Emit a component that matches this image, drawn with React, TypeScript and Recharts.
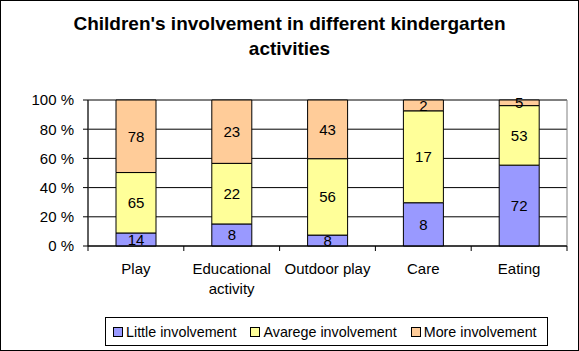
import React from 'react';
import { BarChart, Bar, XAxis, YAxis, CartesianGrid, LabelList, ReferenceArea, Text } from 'recharts';

const categories = ['Play', 'Educational activity', 'Outdoor play', 'Care', 'Eating'];
const little = [14, 8, 8, 8, 72];
const average = [65, 22, 56, 17, 53];
const more = [78, 23, 43, 2, 5];
const yTicks = [0, 0.2, 0.4, 0.6, 0.8, 1];
const seriesNames = ['Little involvement', 'Avarege involvement', 'More involvement'];
const colors = ['#9999FF', '#FFFF99', '#FFCC99'];
const title = ["Children's involvement in different kindergarten", 'activities'];

const data = categories.map((c, i) => ({ name: c, little: little[i], average: average[i], more: more[i] }));

const FONT = '"Liberation Sans", Arial, sans-serif';
const TICK_SIZE = 5;
const TICK_MARGIN = 12;

const XTick = (props: any) => {
  const { x, y, payload, index, visibleTicksCount } = props;
  const half = payload.offset || 0;
  const axisY = y - TICK_SIZE - TICK_MARGIN;
  const isLast = index === visibleTicksCount - 1;
  return (
    <g>
      <line x1={x - half} x2={x - half} y1={axisY} y2={axisY + TICK_SIZE} stroke="#000" />
      {isLast && <line x1={x + half} x2={x + half} y1={axisY} y2={axisY + TICK_SIZE} stroke="#000" />}
      <Text
        x={x}
        y={y}
        width={half * 2}
        textAnchor="middle"
        verticalAnchor="start"
        lineHeight={20}
        fontSize={15}
        fontFamily={FONT}
        fill="#000"
      >
        {payload.value}
      </Text>
    </g>
  );
};

export default function App() {
  return (
    <div style={{ position: 'absolute', left: 0, top: 0, width: 579, height: 351, background: '#fff', fontFamily: FONT }}>
      <div style={{ position: 'absolute', left: 0, top: 0, width: 579, height: 351, boxSizing: 'border-box', border: '1px solid #000' }} />
      <div style={{ position: 'absolute', left: 0, top: 11, width: 579, textAlign: 'center', fontWeight: 'bold', fontSize: 19, lineHeight: '25px', color: '#000' }}>
        {title.map((t) => (
          <div key={t}>{t}</div>
        ))}
      </div>
      <div style={{ position: 'absolute', left: 0, top: 0 }}>
        <BarChart
          width={579}
          height={351}
          data={data}
          stackOffset="expand"
          margin={{ top: 100, right: 12, left: 28, bottom: 55 }}
          barSize={40}
        >
          <CartesianGrid vertical={false} stroke="#000" />
          <ReferenceArea y1={0} y2={1} fill="none" stroke="#808080" ifOverflow="visible" />
          <XAxis
            dataKey="name"
            height={50}
            axisLine={{ stroke: '#000' }}
            tickLine={false}
            tickSize={TICK_SIZE}
            tickMargin={TICK_MARGIN}
            interval={0}
            tick={<XTick />}
          />
          <YAxis
            width={60}
            domain={[0, 1]}
            ticks={yTicks}
            tickFormatter={(v: number) => `${Math.round(v * 100)} %`}
            axisLine={{ stroke: '#000' }}
            tickLine={{ stroke: '#000' }}
            tickSize={5}
            tickMargin={9}
            tick={{ fill: '#000', fontSize: 15, fontFamily: FONT }}
          />
          <Bar dataKey="little" stackId="a" fill={colors[0]} stroke="#000" isAnimationActive={false}>
            <LabelList dataKey="little" position="center" fill="#000" fontSize={15} fontFamily={FONT} />
          </Bar>
          <Bar dataKey="average" stackId="a" fill={colors[1]} stroke="#000" isAnimationActive={false}>
            <LabelList dataKey="average" position="center" fill="#000" fontSize={15} fontFamily={FONT} />
          </Bar>
          <Bar dataKey="more" stackId="a" fill={colors[2]} stroke="#000" isAnimationActive={false}>
            <LabelList dataKey="more" position="center" fill="#000" fontSize={15} fontFamily={FONT} />
          </Bar>
        </BarChart>
      </div>
      <div
        style={{
          position: 'absolute',
          left: 105,
          top: 317,
          width: 443,
          height: 29,
          boxSizing: 'border-box',
          border: '1px solid #000',
          display: 'flex',
          alignItems: 'center',
          paddingLeft: 7,
          fontSize: 14.3,
          color: '#000',
          whiteSpace: 'nowrap',
        }}
      >
        {seriesNames.map((n, i) => (
          <div key={n} style={{ display: 'flex', alignItems: 'center', marginRight: 14 }}>
            <span style={{ display: 'inline-block', width: 8, height: 8, border: '1px solid #000', background: colors[i], marginRight: 3 }} />
            <span>{n}</span>
          </div>
        ))}
      </div>
    </div>
  );
}
